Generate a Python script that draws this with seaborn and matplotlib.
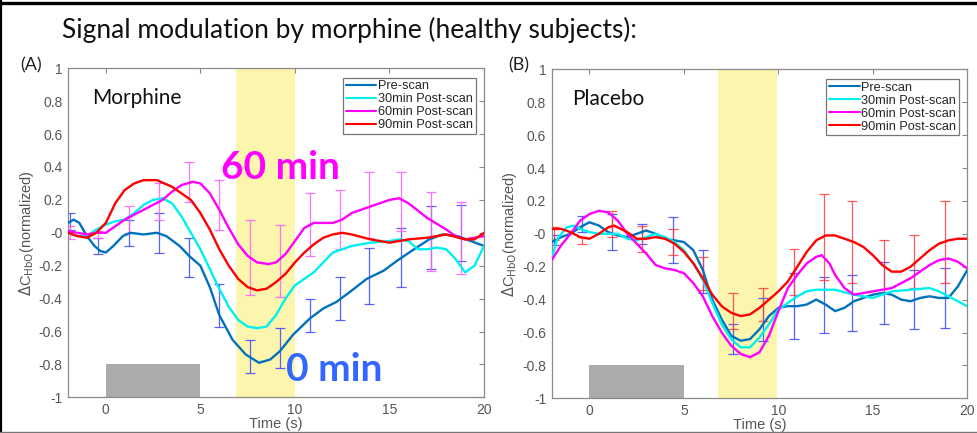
import numpy as np
import pandas as pd
import matplotlib
matplotlib.use("Agg")
import matplotlib.pyplot as plt
import seaborn as sns
from matplotlib.lines import Line2D

# ---------------- data ----------------
series_names = ["Pre-scan", "30min Post-scan", "60min Post-scan", "90min Post-scan"]

# Panel A (Morphine)
a_pre_x = [-2, -1.7, -1.4, -1, -0.6, -0.3, 0, 0.4, 0.9, 1.3, 2, 2.7, 3.2, 3.9, 4.4, 5, 5.5, 6, 6.7, 7.4, 8.1,
           8.7, 9.2, 9.9, 10.8, 11.5, 12.2, 12.9, 13.8, 14.7, 15.4, 16.3, 17.1, 17.8, 18.6, 19.3, 20]
a_pre_y = [0.06, 0.08, 0.06, -0.02, -0.08, -0.11, -0.12, -0.08, -0.02, 0.0, -0.01, 0.0, -0.02, -0.08, -0.14,
           -0.2, -0.33, -0.5, -0.65, -0.74, -0.79, -0.77, -0.72, -0.62, -0.52, -0.46, -0.42, -0.36, -0.28,
           -0.23, -0.17, -0.1, -0.04, -0.01, -0.02, -0.05, -0.08]

a_30_x = [-2, -1.5, -1, -0.5, 0, 0.5, 1, 1.5, 2, 2.5, 3, 3.5, 4, 4.5, 5, 5.5, 6, 6.5, 7, 7.5, 8, 8.5, 9, 9.5,
          10, 10.5, 11, 11.5, 12, 12.5, 13, 14, 15, 15.5, 16, 16.5, 17, 17.5, 18, 18.5, 19, 19.5, 20]
a_30_y = [0.0, -0.02, -0.02, 0.02, 0.05, 0.07, 0.08, 0.12, 0.17, 0.2, 0.21, 0.18, 0.1, 0.0, -0.1, -0.22,
          -0.34, -0.45, -0.53, -0.57, -0.58, -0.57, -0.5, -0.4, -0.32, -0.28, -0.24, -0.18, -0.12, -0.1,
          -0.08, -0.06, -0.05, -0.04, -0.05, -0.1, -0.1, -0.09, -0.1, -0.16, -0.24, -0.2, -0.08]

a_60_x = [-2, -1, -0.5, 0, 1, 2, 3, 3.5, 4, 4.6, 5, 5.5, 6, 6.5, 7, 7.5, 8, 8.6, 9, 9.5, 10, 10.5, 11, 11.5,
          12, 12.5, 13, 14, 15, 15.5, 16, 17, 18, 18.5, 19, 20]
a_60_y = [0.01, -0.01, 0.0, 0.0, 0.08, 0.14, 0.2, 0.25, 0.29, 0.31, 0.3, 0.24, 0.14, 0.03, -0.07, -0.14,
          -0.18, -0.19, -0.18, -0.13, -0.05, 0.03, 0.06, 0.06, 0.06, 0.08, 0.12, 0.16, 0.2, 0.21, 0.18, 0.09,
          0.02, -0.02, -0.04, -0.02]

a_90_x = [-2, -1.5, -1, -0.5, 0, 0.5, 1, 1.5, 2, 2.7, 3.5, 4, 4.5, 5, 5.5, 6, 6.5, 7, 7.5, 8, 8.5, 9, 9.5, 10,
          10.5, 11, 11.5, 12, 12.5, 13, 14, 15, 16, 17, 18, 19, 19.5, 20]
a_90_y = [0.0, -0.02, -0.03, 0.0, 0.06, 0.18, 0.26, 0.3, 0.32, 0.32, 0.28, 0.24, 0.2, 0.12, 0.02, -0.1,
          -0.2, -0.28, -0.33, -0.35, -0.34, -0.3, -0.25, -0.18, -0.12, -0.07, -0.03, -0.01, 0.0, -0.01,
          -0.04, -0.06, -0.04, -0.03, -0.01, -0.04, -0.04, 0.0]

# error bar sample times (both panels)
eb_x = [-1.9, -0.4, 1.2, 2.8, 4.4, 6.0, 7.6, 9.2, 10.8, 12.4, 13.9, 15.6, 17.2, 18.8]

a_pre_eb_y = [0.07, -0.08, 0.0, 0.0, -0.15, -0.44, -0.75, -0.7, -0.5, -0.4, -0.26, -0.15, -0.03, 0.0]
a_pre_eb_e = [0.05, 0.05, 0.08, 0.12, 0.12, 0.13, 0.1, 0.12, 0.1, 0.13, 0.17, 0.18, 0.19, 0.17]
a_60_eb_y = [0.0, -0.01, 0.08, 0.19, 0.31, 0.17, -0.15, -0.17, 0.05, 0.08, 0.17, 0.19, 0.01, -0.03]
a_60_eb_e = [0.04, 0.02, 0.08, 0.11, 0.12, 0.15, 0.23, 0.22, 0.19, 0.18, 0.2, 0.18, 0.24, 0.22]

# Panel B (Placebo)
b_pre_x = [-2, -1.5, -1, -0.5, 0, 0.5, 1, 1.5, 2, 2.5, 3, 3.5, 4, 4.5, 5, 5.5, 6, 6.5, 7, 7.5, 8, 8.5, 9, 9.5,
           10, 10.5, 11, 11.5, 12, 12.5, 13, 13.5, 14, 14.5, 15, 15.5, 16, 16.5, 17, 17.5, 18, 18.5, 19,
           19.5, 20]
b_pre_y = [-0.05, -0.02, 0.0, 0.04, 0.07, 0.05, 0.01, -0.01, -0.02, 0.0, 0.02, 0.0, -0.03, -0.04, -0.05,
           -0.1, -0.22, -0.4, -0.52, -0.62, -0.65, -0.64, -0.58, -0.5, -0.45, -0.44, -0.44, -0.43, -0.4,
           -0.43, -0.47, -0.45, -0.41, -0.39, -0.37, -0.36, -0.37, -0.4, -0.41, -0.39, -0.38, -0.39, -0.39,
           -0.32, -0.22]

b_30_x = [-2, -1.7, -1.2, -0.8, -0.5, 0, 0.5, 1, 1.5, 2, 2.5, 3, 3.5, 4, 4.5, 5, 5.5, 6, 6.5, 7, 7.5, 8, 8.5,
          9, 9.5, 10, 10.5, 11, 11.5, 12, 13, 14, 15, 15.5, 16, 17, 18, 18.5, 19, 19.5, 20]
b_30_y = [-0.15, -0.03, 0.04, 0.05, 0.03, 0.01, 0.0, 0.0, 0.0, -0.03, -0.04, -0.02, 0.0, -0.02, -0.05,
          -0.1, -0.18, -0.28, -0.42, -0.55, -0.64, -0.69, -0.69, -0.63, -0.55, -0.46, -0.42, -0.38, -0.35,
          -0.34, -0.34, -0.37, -0.39, -0.37, -0.35, -0.34, -0.33, -0.35, -0.38, -0.41, -0.44]

b_60_x = [-2, -1.5, -1, -0.5, 0, 0.5, 1, 1.5, 2, 2.5, 3, 3.5, 4, 4.5, 5, 5.5, 6, 6.5, 7, 7.5, 8, 8.5, 9, 9.5,
          10, 10.5, 11, 11.5, 12, 12.3, 12.7, 13, 13.5, 14, 14.5, 15, 15.5, 16, 16.5, 17, 17.5, 18, 18.5,
          19, 19.5, 20]
b_60_y = [-0.16, -0.07, 0.0, 0.08, 0.12, 0.14, 0.13, 0.08, 0.0, -0.06, -0.12, -0.19, -0.21, -0.22, -0.24,
          -0.3, -0.38, -0.5, -0.6, -0.68, -0.73, -0.75, -0.72, -0.62, -0.47, -0.33, -0.25, -0.18, -0.14,
          -0.13, -0.18, -0.25, -0.33, -0.37, -0.36, -0.35, -0.34, -0.33, -0.3, -0.27, -0.23, -0.19, -0.16,
          -0.15, -0.17, -0.21]

b_90_x = [-2, -1.5, -1, -0.5, 0, 0.5, 1, 1.3, 2, 2.5, 3, 3.5, 4, 4.5, 5, 5.5, 6, 6.5, 7, 7.5, 8, 8.5, 9, 9.5,
          10, 10.5, 11, 11.5, 12, 12.5, 13, 13.5, 14, 14.5, 15, 15.5, 16, 16.5, 17, 17.5, 18, 18.5, 19,
          19.5, 20]
b_90_y = [0.03, 0.03, 0.01, -0.02, -0.03, 0.0, 0.04, 0.05, 0.01, -0.03, -0.03, -0.02, -0.03, -0.06, -0.11,
          -0.18, -0.27, -0.37, -0.44, -0.48, -0.5, -0.49, -0.45, -0.4, -0.35, -0.29, -0.2, -0.11, -0.04,
          -0.01, -0.01, -0.03, -0.05, -0.08, -0.13, -0.19, -0.23, -0.23, -0.2, -0.15, -0.1, -0.06, -0.04,
          -0.03, -0.03]

b_pre_eb_y = [-0.04, 0.06, 0.01, 0.0, -0.04, -0.23, -0.64, -0.52, -0.44, -0.43, -0.42, -0.36, -0.4, -0.39]
b_pre_eb_e = [0.03, 0.05, 0.11, 0.06, 0.14, 0.13, 0.09, 0.13, 0.2, 0.17, 0.17, 0.19, 0.18, 0.18]
b_90_eb_y = [0.0, -0.04, 0.06, -0.03, -0.05, -0.24, -0.47, -0.43, -0.23, -0.02, -0.05, -0.2, -0.17, -0.05]
b_90_eb_e = [0.04, 0.02, 0.08, 0.08, 0.08, 0.1, 0.11, 0.1, 0.14, 0.26, 0.25, 0.16, 0.16, 0.25]

stim_block = (0, 5)
a_window = (6.9, 10.0)
b_window = (6.8, 9.95)

# ---------------- style ----------------
sns.set_theme(style="white")
plt.rcParams["font.family"] = ["Liberation Sans", "DejaVu Sans"]

line_colors = ["#0072BD", "#00F0F0", "#FF00FF", "#FF0000"]
palette = dict(zip(series_names, line_colors))
eb_colors = {"Pre-scan": "#3c46ff", "60min Post-scan": "#ff5cff", "90min Post-scan": "#ff3c3c"}
tick_gray = "#555555"
spine_gray = "#8a8a8a"

W, H = 978, 433
fig = plt.figure(figsize=(W / 100, H / 100), dpi=100)
axA = fig.add_axes([68 / W, 1 - 397.3 / H, (484 - 68) / W, (397.3 - 68.3) / H])
axB = fig.add_axes([551.7 / W, 1 - 398.3 / H, (967.3 - 551.7) / W, (398.3 - 69.3) / H])


def long_df(xs, ys):
    frames = []
    for name, x, y in zip(series_names, xs, ys):
        frames.append(pd.DataFrame({"t": x, "v": y, "series": name}))
    return pd.concat(frames, ignore_index=True)


def draw_panel(ax, df, window, ebs, label_text, label_x, legend_anchor):
    ax.axvspan(window[0], window[1], color="#fbf5ae", lw=0, zorder=0)
    ax.axvspan(stim_block[0], stim_block[1], ymin=0, ymax=0.1, color="#ababab", lw=0, zorder=0.5)
    sns.lineplot(data=df, x="t", y="v", hue="series", palette=palette, hue_order=series_names,
                 estimator=None, sort=False, lw=1.7, ax=ax, zorder=3)
    for name, (yy, ee) in ebs.items():
        ax.errorbar(eb_x, yy, yerr=ee, fmt="none", ecolor=eb_colors[name], elinewidth=0.9,
                    capsize=3.5, capthick=0.9, alpha=0.85, zorder=2)
    ax.set_xlim(-2, 20)
    ax.set_ylim(-1, 1)
    ax.set_xticks([0, 5, 10, 15, 20])
    yt = np.round(np.arange(-1, 1.01, 0.2), 1)
    ax.set_yticks(yt)
    ax.set_yticklabels([("%g" % v) for v in yt])
    ax.tick_params(direction="in", length=3.5, width=0.8, top=True, right=True, colors=spine_gray,
                   labelcolor=tick_gray, labelsize=10, pad=4)
    for s in ax.spines.values():
        s.set_color(spine_gray)
        s.set_linewidth(0.9)
    ax.set_xlabel("Time (s)", color=tick_gray, fontsize=10.5, labelpad=0)
    ax.set_ylabel(r"$\Delta$C$_{\mathrm{HbO}}$(normalized)", color=tick_gray, fontsize=10.5, labelpad=2)
    ax.text(label_x, 0.91, label_text, transform=ax.transAxes, fontsize=15, family=["Lato", "DejaVu Sans"],
            color="#111111", va="center", ha="left")
    leg = ax.legend(loc="upper right", bbox_to_anchor=legend_anchor, fontsize=9.2, frameon=True,
                    fancybox=False, handlelength=2.4, handletextpad=0.15, borderpad=0.2,
                    labelspacing=0.08, borderaxespad=0)
    leg.get_frame().set_edgecolor("#555555")
    leg.get_frame().set_linewidth(0.9)
    for h in leg.get_lines():
        h.set_linewidth(1.5)


draw_panel(axA, long_df([a_pre_x, a_30_x, a_60_x, a_90_x], [a_pre_y, a_30_y, a_60_y, a_90_y]), a_window,
           {"Pre-scan": (a_pre_eb_y, a_pre_eb_e), "60min Post-scan": (a_60_eb_y, a_60_eb_e)},
           "Morphine", 0.058, (0.98, 0.972))
draw_panel(axB, long_df([b_pre_x, b_30_x, b_60_x, b_90_x], [b_pre_y, b_30_y, b_60_y, b_90_y]), b_window,
           {"Pre-scan": (b_pre_eb_y, b_pre_eb_e), "90min Post-scan": (b_90_eb_y, b_90_eb_e)},
           "Placebo", 0.05, (0.98, 0.97))

# annotations
axA.text(0.368, 0.697, "60 min", transform=axA.transAxes, fontsize=28, fontweight="bold",
         color="#FF00FF", family=["Lato", "DejaVu Sans"], ha="left", va="center")
axA.text(0.525, 0.083, "0 min", transform=axA.transAxes, fontsize=28, fontweight="bold",
         color="#3366FF", family=["Lato", "DejaVu Sans"], ha="left", va="center")

fig.text(20 / W, 1 - 65 / H, "(A)", fontsize=13, family=["Lato", "DejaVu Sans"], color="#222222",
         va="center")
fig.text(508 / W, 1 - 65 / H, "(B)", fontsize=13, family=["Lato", "DejaVu Sans"], color="#222222",
         va="center")
fig.text(62 / W, 1 - 30 / H, "Signal modulation by morphine (healthy subjects):", fontsize=19,
         family=["Lato", "DejaVu Sans"], color="#111111", va="center", ha="left")

# frame lines of the slide
fig.add_artist(Line2D([0, 1], [1 - 3 / H, 1 - 3 / H], color="black", lw=2.4, transform=fig.transFigure))
fig.add_artist(Line2D([1.5 / W, 1.5 / W], [0, 1], color="black", lw=1.6, transform=fig.transFigure))
fig.add_artist(Line2D([0, 1], [1.5 / H, 1.5 / H], color="#777777", lw=1.0, transform=fig.transFigure))

fig.savefig("out.png", dpi=100)
